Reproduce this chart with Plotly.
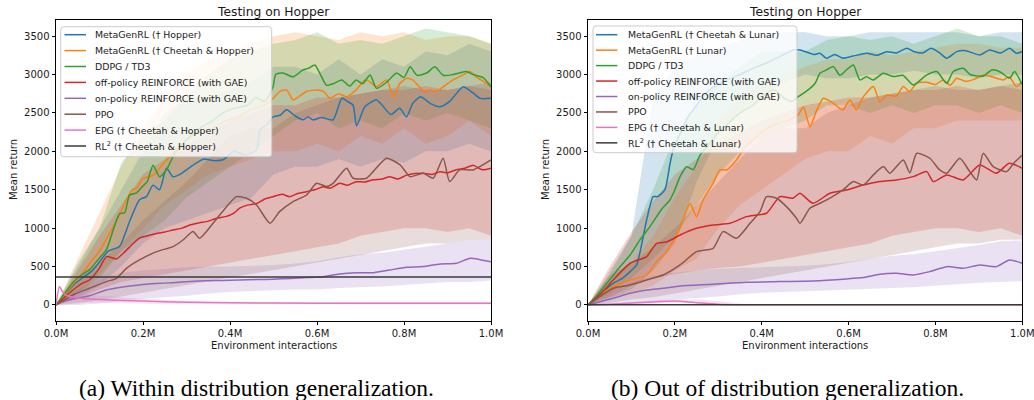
import plotly.graph_objects as go

W, H = 1034, 400

def fx(p):
    return p / W

def fy(p):
    return 1 - p / H

# ---------------- data ----------------
X_TICKS = [0.0, 0.2, 0.4, 0.6, 0.8, 1.0]
X_TICK_LABELS = ["0.0M", "0.2M", "0.4M", "0.6M", "0.8M", "1.0M"]
Y_TICKS = [0, 500, 1000, 1500, 2000, 2500, 3000, 3500]

BAND_X = [0.0, 0.05, 0.1, 0.15, 0.2, 0.25, 0.3, 0.35, 0.4, 0.45, 0.5,
          0.55, 0.6, 0.65, 0.7, 0.75, 0.8, 0.85, 0.9, 0.95, 1.0]

NAMES_A = ["MetaGenRL († Hopper)", "MetaGenRL († Cheetah & Hopper)", "DDPG / TD3",
           "off-policy REINFORCE (with GAE)", "on-policy REINFORCE (with GAE)", "PPO",
           "EPG († Cheetah & Hopper)", "RL<sup>2</sup> († Cheetah & Hopper)"]
NAMES_B = ["MetaGenRL († Cheetah & Lunar)", "MetaGenRL († Lunar)", "DDPG / TD3",
           "off-policy REINFORCE (with GAE)", "on-policy REINFORCE (with GAE)", "PPO",
           "EPG († Cheetah & Lunar)", "RL<sup>2</sup> († Cheetah & Lunar)"]
TITLE = "Testing on Hopper"
XLABEL = "Environment interactions"
YLABEL = "Mean return"
CAPTIONS = ["(a) Within distribution generalization.", "(b) Out of distribution generalization."]

# ---- panel (a) mean curves ----
a_blue_x = [0, 0.02, 0.04, 0.06, 0.08, 0.1, 0.12, 0.146, 0.17, 0.192, 0.208, 0.223, 0.238, 0.254, 0.269, 0.285, 0.3, 0.323, 0.34, 0.36, 0.384, 0.41, 0.435, 0.461, 0.469, 0.485, 0.499, 0.515, 0.53, 0.55, 0.568, 0.58, 0.59, 0.61, 0.637, 0.657, 0.67, 0.683, 0.691, 0.71, 0.737, 0.75, 0.77, 0.79, 0.806, 0.82, 0.838, 0.86, 0.883, 0.905, 0.936, 0.959, 0.975, 1.0]
a_blue_y = [0, 120, 260, 350, 430, 560, 700, 760, 1100, 1370, 1410, 1560, 1500, 1780, 1670, 1700, 1760, 1850, 1900, 1880, 1890, 2000, 1950, 2020, 2280, 2350, 2450, 2470, 2540, 2460, 2410, 2450, 2410, 2440, 2410, 2690, 2650, 2600, 2330, 2580, 2670, 2600, 2480, 2560, 2450, 2625, 2710, 2625, 2580, 2650, 2840, 2760, 2690, 2690]

a_orange_x = [0, 0.02, 0.04, 0.06, 0.08, 0.1, 0.12, 0.14, 0.16, 0.175, 0.185, 0.2, 0.215, 0.23, 0.245, 0.261, 0.28, 0.3, 0.33, 0.36, 0.39, 0.42, 0.45, 0.48, 0.499, 0.515, 0.53, 0.545, 0.56, 0.576, 0.6, 0.615, 0.63, 0.65, 0.668, 0.69, 0.71, 0.72, 0.737, 0.76, 0.776, 0.79, 0.806, 0.82, 0.846, 0.86, 0.875, 0.89, 0.913, 0.936, 0.951, 0.966, 0.985, 1.0]
a_orange_y = [0, 130, 280, 400, 560, 700, 900, 1100, 1350, 1500, 1520, 1650, 1670, 1720, 1830, 1930, 2050, 2150, 2250, 2300, 2400, 2450, 2550, 2600, 2690, 2780, 2800, 2670, 2720, 2780, 2800, 2780, 2690, 2750, 2710, 2800, 2930, 2910, 2840, 2930, 2710, 2880, 2950, 2930, 2780, 2800, 2780, 2840, 2930, 2995, 3040, 2970, 2900, 2840]

a_green_x = [0, 0.02, 0.04, 0.06, 0.077, 0.095, 0.116, 0.13, 0.146, 0.158, 0.169, 0.185, 0.2, 0.21, 0.223, 0.238, 0.254, 0.269, 0.29, 0.31, 0.33, 0.36, 0.384, 0.41, 0.44, 0.46, 0.48, 0.499, 0.505, 0.522, 0.545, 0.568, 0.58, 0.595, 0.607, 0.622, 0.637, 0.657, 0.675, 0.69, 0.705, 0.722, 0.737, 0.76, 0.783, 0.8, 0.814, 0.83, 0.852, 0.871, 0.89, 0.913, 0.928, 0.943, 0.959, 0.982, 1.0]
a_green_y = [0, 150, 300, 400, 460, 580, 720, 950, 1190, 1200, 1430, 1460, 1550, 1610, 1820, 1670, 1760, 1930, 2100, 2200, 2300, 2400, 2500, 2560, 2600, 2700, 2650, 2840, 3000, 3020, 2970, 3060, 3080, 3125, 3010, 2860, 2880, 2930, 2850, 2930, 2880, 2995, 2820, 2900, 3020, 2960, 3100, 2990, 3020, 3100, 2990, 3000, 3020, 3040, 3000, 2960, 2840]

a_red_x = [0, 0.02, 0.039, 0.06, 0.077, 0.1, 0.116, 0.139, 0.154, 0.17, 0.192, 0.21, 0.231, 0.25, 0.269, 0.29, 0.308, 0.33, 0.346, 0.37, 0.39, 0.41, 0.422, 0.44, 0.461, 0.48, 0.499, 0.52, 0.537, 0.555, 0.576, 0.595, 0.614, 0.63, 0.652, 0.67, 0.69, 0.71, 0.729, 0.75, 0.767, 0.785, 0.806, 0.825, 0.844, 0.865, 0.883, 0.9, 0.92, 0.94, 0.959, 0.98, 1.0]
a_red_y = [0, 100, 195, 280, 325, 480, 630, 600, 670, 760, 870, 900, 930, 950, 976, 1000, 1040, 1070, 1085, 1130, 1150, 1200, 1260, 1300, 1320, 1380, 1410, 1440, 1410, 1450, 1475, 1500, 1540, 1520, 1585, 1560, 1605, 1600, 1630, 1640, 1670, 1640, 1690, 1710, 1715, 1700, 1735, 1720, 1760, 1780, 1820, 1760, 1780]

a_purple_x = [0, 0.008, 0.04, 0.077, 0.116, 0.15, 0.192, 0.23, 0.269, 0.31, 0.346, 0.38, 0.422, 0.46, 0.499, 0.54, 0.576, 0.614, 0.652, 0.69, 0.729, 0.767, 0.806, 0.844, 0.883, 0.92, 0.952, 0.975, 1.0]
a_purple_y = [0, 26, 80, 121, 195, 230, 260, 278, 290, 305, 316, 320, 326, 330, 335, 345, 356, 368, 404, 420, 420, 455, 490, 500, 534, 543, 608, 590, 564]

a_brown_x = [0, 0.039, 0.077, 0.116, 0.139, 0.162, 0.192, 0.231, 0.269, 0.292, 0.315, 0.33, 0.361, 0.392, 0.415, 0.438, 0.461, 0.492, 0.514, 0.545, 0.576, 0.599, 0.622, 0.637, 0.668, 0.683, 0.714, 0.729, 0.76, 0.791, 0.814, 0.844, 0.867, 0.89, 0.905, 0.928, 0.959, 1.0]
a_brown_y = [0, 130, 217, 304, 347, 477, 586, 694, 760, 846, 955, 868, 1063, 1280, 1410, 1389, 1302, 1063, 1215, 1345, 1432, 1584, 1541, 1584, 1780, 1650, 1650, 1736, 1910, 1823, 1671, 1715, 1650, 1910, 1606, 1758, 1758, 1888]

a_pink_x = [0, 0.008, 0.015, 0.025, 0.05, 0.1, 0.2, 0.3, 0.5, 0.7, 1.0]
a_pink_y = [0, 240, 170, 120, 90, 70, 50, 35, 25, 22, 22]

a_black_x = [0, 1.0]
a_black_y = [365, 365]

# ---- panel (a) bands (lower, upper) on BAND_X ----
a_blue_lo = [0, 100, 250, 500, 800, 1000, 1100, 1200, 1300, 1400, 1700, 1800, 1800, 1900, 1800, 1900, 1850, 2000, 2000, 2100, 2000]
a_blue_hi = [0, 500, 1000, 1500, 2000, 2500, 2700, 2700, 2800, 2900, 3100, 3100, 3000, 3200, 3000, 3200, 3100, 3300, 3250, 3400, 3300]
a_orange_lo = [0, 150, 400, 700, 1000, 1300, 1500, 1700, 1800, 1900, 2000, 2000, 2100, 2000, 2200, 2100, 2300, 2100, 2200, 2400, 2200]
a_orange_hi = [0, 600, 1200, 1800, 2300, 2700, 3000, 3200, 3300, 3400, 3500, 3550, 3500, 3450, 3550, 3500, 3550, 3450, 3500, 3500, 3400]
a_green_lo = [0, 150, 350, 700, 900, 1100, 1400, 1600, 1800, 2000, 2200, 2400, 2500, 2300, 2400, 2300, 2500, 2400, 2500, 2400, 2300]
a_green_hi = [0, 550, 1000, 1850, 2200, 2400, 2700, 3000, 3200, 3300, 3400, 3450, 3550, 3400, 3450, 3400, 3500, 3600, 3550, 3500, 3400]
a_red_lo = [0, 80, 200, 300, 350, 400, 450, 500, 550, 600, 650, 700, 750, 800, 900, 950, 1000, 1000, 950, 1000, 900]
a_red_hi = [0, 450, 900, 1300, 1700, 1900, 2100, 2200, 2400, 2500, 2600, 2600, 2700, 2700, 2750, 2800, 2800, 2850, 2800, 2850, 2800]
a_purple_lo = [0, 0, 20, 50, 80, 100, 120, 150, 170, 180, 190, 200, 200, 220, 230, 240, 260, 280, 300, 300, 320]
a_purple_hi = [0, 200, 330, 420, 450, 470, 490, 500, 500, 510, 520, 540, 570, 620, 660, 680, 720, 760, 800, 850, 850]
a_brown_lo = [0, 20, 60, 100, 150, 200, 250, 300, 350, 400, 450, 500, 550, 600, 650, 700, 750, 800, 800, 850, 850]
a_brown_hi = [0, 350, 550, 800, 1100, 1350, 1600, 1900, 2200, 2300, 2300, 2500, 2600, 2700, 2750, 2800, 2850, 2800, 2800, 2850, 2900]
a_pink_lo = [0, 40, 30, 20, 15, 10, 8, 6, 5, 5, 5, 5, 5, 5, 5, 5, 5, 5, 5, 5, 5]
a_pink_hi = [0, 150, 120, 100, 80, 65, 55, 45, 40, 38, 36, 35, 35, 35, 35, 35, 35, 35, 35, 35, 35]

# ---- panel (b) mean curves ----
b_blue_x = [0, 0.02, 0.04, 0.058, 0.08, 0.1, 0.112, 0.135, 0.15, 0.16, 0.177, 0.189, 0.196, 0.21, 0.23, 0.25, 0.27, 0.3, 0.319, 0.35, 0.38, 0.411, 0.44, 0.473, 0.488, 0.511, 0.52, 0.534, 0.549, 0.568, 0.587, 0.61, 0.642, 0.665, 0.688, 0.71, 0.734, 0.75, 0.77, 0.79, 0.81, 0.826, 0.849, 0.87, 0.902, 0.925, 0.95, 0.971, 0.986, 1.0]
b_blue_y = [0, 100, 200, 282, 350, 450, 521, 1106, 1410, 1410, 1497, 1845, 2018, 2200, 2450, 2600, 2750, 2880, 2930, 3000, 3080, 3150, 3230, 3320, 3320, 3277, 3260, 3277, 3212, 3260, 3212, 3240, 3277, 3250, 3298, 3280, 3342, 3300, 3280, 3342, 3280, 3212, 3298, 3310, 3255, 3320, 3280, 3342, 3277, 3300]

b_orange_x = [0, 0.02, 0.058, 0.097, 0.135, 0.158, 0.181, 0.204, 0.212, 0.227, 0.235, 0.25, 0.265, 0.288, 0.304, 0.32, 0.342, 0.357, 0.38, 0.4, 0.43, 0.46, 0.484, 0.496, 0.511, 0.527, 0.542, 0.565, 0.587, 0.603, 0.618, 0.634, 0.657, 0.672, 0.688, 0.71, 0.726, 0.74, 0.757, 0.78, 0.8, 0.818, 0.834, 0.849, 0.87, 0.89, 0.91, 0.93, 0.956, 0.97, 0.986, 1.0]
b_orange_y = [0, 100, 239, 325, 390, 564, 694, 911, 998, 1237, 1324, 1150, 1367, 1584, 1758, 1760, 1888, 2018, 2150, 2250, 2350, 2400, 2473, 2582, 2321, 2539, 2691, 2625, 2539, 2669, 2539, 2712, 2843, 2647, 2734, 2720, 2843, 2780, 2886, 2900, 2870, 2930, 2860, 2952, 2910, 2940, 2995, 2970, 2930, 2970, 2843, 2908]

b_green_x = [0, 0.02, 0.043, 0.074, 0.097, 0.12, 0.14, 0.158, 0.17, 0.189, 0.2, 0.212, 0.227, 0.242, 0.258, 0.28, 0.3, 0.32, 0.35, 0.38, 0.41, 0.43, 0.45, 0.47, 0.484, 0.507, 0.523, 0.534, 0.549, 0.565, 0.58, 0.595, 0.611, 0.626, 0.641, 0.657, 0.68, 0.703, 0.725, 0.749, 0.78, 0.803, 0.826, 0.841, 0.864, 0.88, 0.91, 0.93, 0.95, 0.971, 0.982, 1.0]
b_green_y = [0, 120, 280, 500, 650, 850, 1000, 1150, 1250, 1370, 1500, 1670, 1800, 1760, 1950, 2100, 2250, 2350, 2500, 2600, 2750, 2800, 2700, 2650, 2712, 2800, 2886, 3017, 3060, 3103, 2990, 3060, 3125, 2930, 2970, 2930, 3017, 2973, 2990, 2864, 2995, 3039, 2886, 3039, 3082, 3000, 2980, 3060, 3030, 2952, 3039, 2864]

b_red_x = [0, 0.03, 0.058, 0.097, 0.135, 0.158, 0.181, 0.212, 0.25, 0.288, 0.327, 0.365, 0.388, 0.411, 0.442, 0.472, 0.488, 0.518, 0.557, 0.595, 0.634, 0.672, 0.71, 0.749, 0.78, 0.795, 0.826, 0.864, 0.902, 0.94, 0.97, 1.0]
b_red_y = [0, 150, 325, 543, 629, 803, 820, 911, 998, 1041, 1063, 1150, 1170, 1194, 1410, 1390, 1454, 1324, 1454, 1497, 1562, 1606, 1628, 1671, 1736, 1606, 1693, 1628, 1823, 1715, 1845, 1780]

b_purple_x = [0, 0.058, 0.097, 0.135, 0.173, 0.212, 0.288, 0.365, 0.442, 0.518, 0.595, 0.634, 0.672, 0.71, 0.749, 0.787, 0.826, 0.864, 0.902, 0.94, 0.97, 1.0]
b_purple_y = [0, 87, 152, 195, 217, 247, 269, 295, 304, 312, 338, 356, 399, 412, 391, 434, 499, 477, 521, 499, 586, 543]

b_brown_x = [0, 0.058, 0.097, 0.135, 0.173, 0.212, 0.25, 0.288, 0.311, 0.342, 0.373, 0.396, 0.411, 0.434, 0.457, 0.48, 0.488, 0.511, 0.534, 0.56, 0.587, 0.611, 0.634, 0.657, 0.68, 0.695, 0.726, 0.741, 0.757, 0.787, 0.81, 0.826, 0.856, 0.879, 0.895, 0.91, 0.933, 0.964, 0.98, 1.0]
b_brown_y = [0, 217, 260, 325, 390, 521, 694, 738, 955, 868, 1063, 1215, 1410, 1389, 1280, 1128, 1063, 1259, 1324, 1400, 1497, 1606, 1560, 1693, 1801, 1715, 1888, 1720, 1975, 1910, 1758, 1715, 1910, 1736, 1628, 1975, 1801, 1736, 1845, 1953]

b_pink_x = [0, 0.05, 0.1, 0.15, 0.2, 0.25, 0.3, 0.35, 0.5, 1.0]
b_pink_y = [0, 10, 25, 40, 50, 30, 10, 3, 2, 2]

b_black_x = [0, 1.0]
b_black_y = [3, 3]

# ---- panel (b) bands ----
b_blue_lo = [0, 80, 200, 450, 800, 1600, 2200, 2500, 2700, 2900, 3000, 2950, 2950, 3000, 3000, 3050, 3000, 3000, 2950, 3000, 3000]
b_blue_hi = [0, 400, 900, 2700, 3100, 3250, 3350, 3450, 3500, 3550, 3550, 3500, 3500, 3550, 3550, 3550, 3550, 3550, 3500, 3550, 3550]
b_orange_lo = [0, 100, 150, 250, 450, 600, 1000, 1300, 1500, 1700, 1900, 2000, 2000, 2200, 2100, 2300, 2300, 2400, 2400, 2400, 2400]
b_orange_hi = [0, 350, 550, 900, 1400, 1800, 2400, 2700, 2900, 3000, 3100, 3200, 3200, 3300, 3250, 3300, 3350, 3400, 3400, 3350, 3350]
b_green_lo = [0, 150, 350, 600, 900, 1300, 1700, 2000, 2200, 2300, 2400, 2600, 2600, 2500, 2600, 2500, 2600, 2600, 2500, 2600, 2500]
b_green_hi = [0, 450, 900, 1500, 2200, 2600, 2900, 3100, 3300, 3300, 3300, 3450, 3500, 3450, 3500, 3400, 3500, 3600, 3500, 3500, 3400]
b_red_lo = [0, 100, 250, 350, 400, 450, 480, 500, 550, 600, 650, 700, 750, 800, 900, 950, 1000, 1000, 950, 1000, 900]
b_red_hi = [0, 500, 950, 1350, 1700, 1900, 2100, 2250, 2400, 2500, 2600, 2650, 2700, 2700, 2750, 2800, 2800, 2850, 2800, 2850, 2800]
b_purple_lo = [0, 0, 20, 40, 70, 90, 110, 140, 160, 170, 180, 190, 200, 210, 220, 230, 250, 270, 290, 300, 310]
b_purple_hi = [0, 180, 300, 380, 420, 450, 470, 480, 490, 500, 510, 530, 560, 600, 640, 660, 700, 740, 780, 830, 840]
b_brown_lo = [0, 30, 70, 100, 150, 200, 250, 300, 350, 400, 450, 500, 550, 600, 650, 700, 750, 800, 800, 850, 850]
b_brown_hi = [0, 380, 550, 750, 1000, 1300, 1600, 1900, 2200, 2300, 2300, 2500, 2600, 2700, 2750, 2800, 2850, 2800, 2800, 2850, 2900]
b_pink_lo = [0, 0, 10, 20, 25, 25, 15, 5, 0, 0, 0, 0, 0, 0, 0, 0, 0, 0, 0, 0, 0]
b_pink_hi = [0, 25, 40, 60, 70, 70, 50, 20, 5, 5, 5, 5, 5, 5, 5, 5, 5, 5, 5, 5, 5]

COLORS = ["#1f77b4", "#ff7f0e", "#2ca02c", "#d62728", "#9467bd", "#8c564b", "#e377c2", "#3a3a3a"]

def rgba(hexc, a):
    h = hexc.lstrip("#")
    return "rgba(%d,%d,%d,%.2f)" % (int(h[0:2], 16), int(h[2:4], 16), int(h[4:6], 16), a)

fig = go.Figure()

panels = [
    ("x", "y", NAMES_A,
     [(a_blue_x, a_blue_y), (a_orange_x, a_orange_y), (a_green_x, a_green_y), (a_red_x, a_red_y),
      (a_purple_x, a_purple_y), (a_brown_x, a_brown_y), (a_pink_x, a_pink_y), (a_black_x, a_black_y)],
     [(a_blue_lo, a_blue_hi), (a_orange_lo, a_orange_hi), (a_green_lo, a_green_hi), (a_red_lo, a_red_hi),
      (a_purple_lo, a_purple_hi), (a_brown_lo, a_brown_hi), (a_pink_lo, a_pink_hi), None]),
    ("x2", "y2", NAMES_B,
     [(b_blue_x, b_blue_y), (b_orange_x, b_orange_y), (b_green_x, b_green_y), (b_red_x, b_red_y),
      (b_purple_x, b_purple_y), (b_brown_x, b_brown_y), (b_pink_x, b_pink_y), (b_black_x, b_black_y)],
     [(b_blue_lo, b_blue_hi), (b_orange_lo, b_orange_hi), (b_green_lo, b_green_hi), (b_red_lo, b_red_hi),
      (b_purple_lo, b_purple_hi), (b_brown_lo, b_brown_hi), (b_pink_lo, b_pink_hi), None]),
]

for xa, ya, names, means, bands in panels:
    for i, band in enumerate(bands):
        if band is None:
            continue
        lo, hi = band
        fig.add_trace(go.Scatter(
            x=BAND_X + BAND_X[::-1], y=hi + lo[::-1], fill="toself",
            fillcolor=rgba(COLORS[i], 0.2), line=dict(width=0), mode="lines",
            hoverinfo="skip", showlegend=False, xaxis=xa, yaxis=ya))
    for i, (mx, my) in enumerate(means):
        fig.add_trace(go.Scatter(
            x=mx, y=my, mode="lines", name=names[i], showlegend=False,
            line=dict(color=COLORS[i], width=1.5, shape="spline", smoothing=0.6),
            xaxis=xa, yaxis=ya))

FONT = "DejaVu Sans"
TXT = "#1a1a1a"
axis_common = dict(showline=True, mirror=True, linecolor="black", linewidth=1,
                   ticks="outside", ticklen=3.5, tickwidth=1, tickcolor="black",
                   showgrid=False, zeroline=False, automargin=False,
                   ticklabeloverflow="allow",
                   tickfont=dict(family=FONT, size=10, color=TXT))

ydom = [fy(320.7), fy(20)]

fig.update_layout(
    width=W, height=H, margin=dict(l=0, r=0, t=0, b=0, autoexpand=False),
    paper_bgcolor="white", plot_bgcolor="white", showlegend=False,
    xaxis=dict(domain=[fx(56), fx(491)], range=[0, 1], tickvals=X_TICKS, ticktext=X_TICK_LABELS, anchor="y", **axis_common),
    yaxis=dict(domain=ydom, range=[-205, 3710], tickvals=Y_TICKS, anchor="x", **axis_common),
    xaxis2=dict(domain=[fx(588), fx(1022.3)], range=[0, 1], tickvals=X_TICKS, ticktext=X_TICK_LABELS, anchor="y2", **axis_common),
    yaxis2=dict(domain=ydom, range=[-205, 3710], tickvals=Y_TICKS, anchor="x2", **axis_common),
)

# ---- hand-built legends (matplotlib-like spacing) ----
def rounded_rect_path(x0, y0, x1, y1, r):
    def P(x, y):
        return "%.5f,%.5f" % (fx(x), fy(y))
    return ("M " + P(x0 + r, y0) + " L " + P(x1 - r, y0) + " Q " + P(x1, y0) + " " + P(x1, y0 + r) +
            " L " + P(x1, y1 - r) + " Q " + P(x1, y1) + " " + P(x1 - r, y1) +
            " L " + P(x0 + r, y1) + " Q " + P(x0, y1) + " " + P(x0, y1 - r) +
            " L " + P(x0, y0 + r) + " Q " + P(x0, y0) + " " + P(x0 + r, y0) + " Z")

shapes = []
annots = []
legend_specs = [
    (60.7, 26.7, 271.7, 156.7, 64.5, 86.0, 93.3, 34.7, 15.9, NAMES_A),
    (593.0, 26.0, 797.0, 152.7, 596.0, 617.3, 626.0, 34.7, 15.45, NAMES_B),
]
for bx0, by0, bx1, by1, lx0, lx1, tx, ry0, step, names in legend_specs:
    shapes.append(dict(type="path", path=rounded_rect_path(bx0, by0, bx1, by1, 3),
                       xref="paper", yref="paper", layer="above",
                       fillcolor="rgba(255,255,255,0.8)", line=dict(color="#cccccc", width=1)))
    for i, nm in enumerate(names):
        yy = ry0 + i * step
        shapes.append(dict(type="line", xref="paper", yref="paper", layer="above",
                           x0=fx(lx0), x1=fx(lx1), y0=fy(yy), y1=fy(yy),
                           line=dict(color=COLORS[i], width=1.5)))
        annots.append(dict(text=nm, x=fx(tx), y=fy(yy), xref="paper", yref="paper",
                           xanchor="left", yanchor="middle", showarrow=False,
                           font=dict(family=FONT, size=9.4, color=TXT)))

for cx in [(56 + 491) / 2, (588 + 1022.3) / 2]:
    annots.append(dict(text=TITLE, x=fx(cx), y=fy(11.5), xref="paper", yref="paper",
                       xanchor="center", yanchor="middle", showarrow=False,
                       font=dict(family=FONT, size=12.3, color=TXT)))
    annots.append(dict(text=XLABEL, x=fx(cx), y=fy(345.5), xref="paper", yref="paper",
                       xanchor="center", yanchor="middle", showarrow=False,
                       font=dict(family=FONT, size=10, color=TXT)))
for lx in [13, 545]:
    annots.append(dict(text=YLABEL, x=fx(lx), y=fy(170), xref="paper", yref="paper",
                       xanchor="center", yanchor="middle", showarrow=False, textangle=-90,
                       font=dict(family=FONT, size=10, color=TXT)))
for cap, cx in zip(CAPTIONS, [256, 787]):
    annots.append(dict(text=cap, x=fx(cx), y=fy(402.5), xref="paper", yref="paper",
                       xanchor="center", yanchor="bottom", showarrow=False,
                       font=dict(family="Liberation Serif", size=23.5, color="black")))

fig.update_layout(shapes=shapes, annotations=annots)

fig.write_html("out.html")
